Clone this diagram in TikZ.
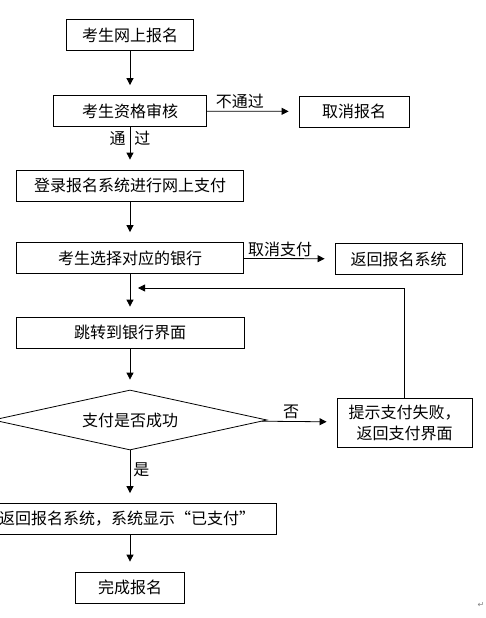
\documentclass[tikz,border=0pt]{standalone}
\usepackage{fontspec}
\setmainfont{Noto Sans CJK SC}
\newfontfamily\symfont{DejaVu Sans}
\usetikzlibrary{arrows.meta,shapes.geometric}

\begin{document}
\begin{tikzpicture}[x=1pt,y=-1pt,
    font=\fontsize{16}{21}\selectfont,
    box/.style={draw, line width=0.8pt, minimum height=31pt, inner sep=0pt},
    arr/.style={line width=0.8pt, -{Triangle[length=7pt,width=7pt]}, shorten >=10pt},
    lab/.style={inner sep=0pt}]
    \useasboundingbox (0,0) rectangle (486,618);
    \node[box, minimum width=127pt] (apply) at (130,35) {考生网上报名};
    \node[box, minimum width=153pt] (check) at (130,111) {考生资格审核};
    \node[box, minimum width=110pt] (cancel) at (354,111.5) {取消报名};
    \node[box, minimum width=227pt] (login) at (130,185.5) {登录报名系统进行网上支付};
    \node[box, minimum width=227pt] (bank) at (130,258) {考生选择对应的银行};
    \node[box, minimum width=127pt] (back) at (398.5,259) {返回报名系统};
    \node[box, minimum width=228pt] (jump) at (130,332.5) {跳转到银行界面};
    \node[draw, line width=0.8pt, diamond, aspect=4.57, minimum width=274pt, minimum height=60pt, inner sep=0pt] (paid) at (130,420) {支付是否成功};
    \node[box, minimum width=135pt, minimum height=49pt, align=center] (fail) at (404.5,422.5) {提示支付失败，\\返回支付界面};
    \node[box, minimum width=299pt] (shown) at (127,519) {返回报名系统，系统显示“已支付”};
    \node[box, minimum width=109pt] (done) at (130,587.5) {完成报名};
    \coordinate (retry) at (138,288);
    \node[font=\symfont\fontsize{8}{8}\selectfont, text=gray] (mark) at (481,605) {↵};

    \draw[arr] (apply) -- (check);
    \draw[arr] (check) -- node[lab, pos=0.36, above=2pt] {不通过} (cancel);
    \draw[arr] (check) -- node[lab, pos=0.26] {通\hspace{9pt}过} (login);
    \draw[arr] (login) -- (bank);
    \draw[arr] (bank) -- node[lab, pos=0.4, above=1pt] {取消支付} (back);
    \draw[arr] (bank) -- (jump);
    \draw[arr] (jump) -- (paid);
    \draw[arr] (paid) -- node[lab, pos=0.39, above=2pt] {否} (fail);
    \draw[arr] (paid.south) -- node[lab, pos=0.37, right=3pt] {是} (paid.south |- shown.north);
    \draw[arr] (shown.south -| done) -- (done);
    \draw[arr, shorten >=0pt] (fail.north) -- (fail.north |- retry) -- (retry);
\end{tikzpicture}
\end{document}
